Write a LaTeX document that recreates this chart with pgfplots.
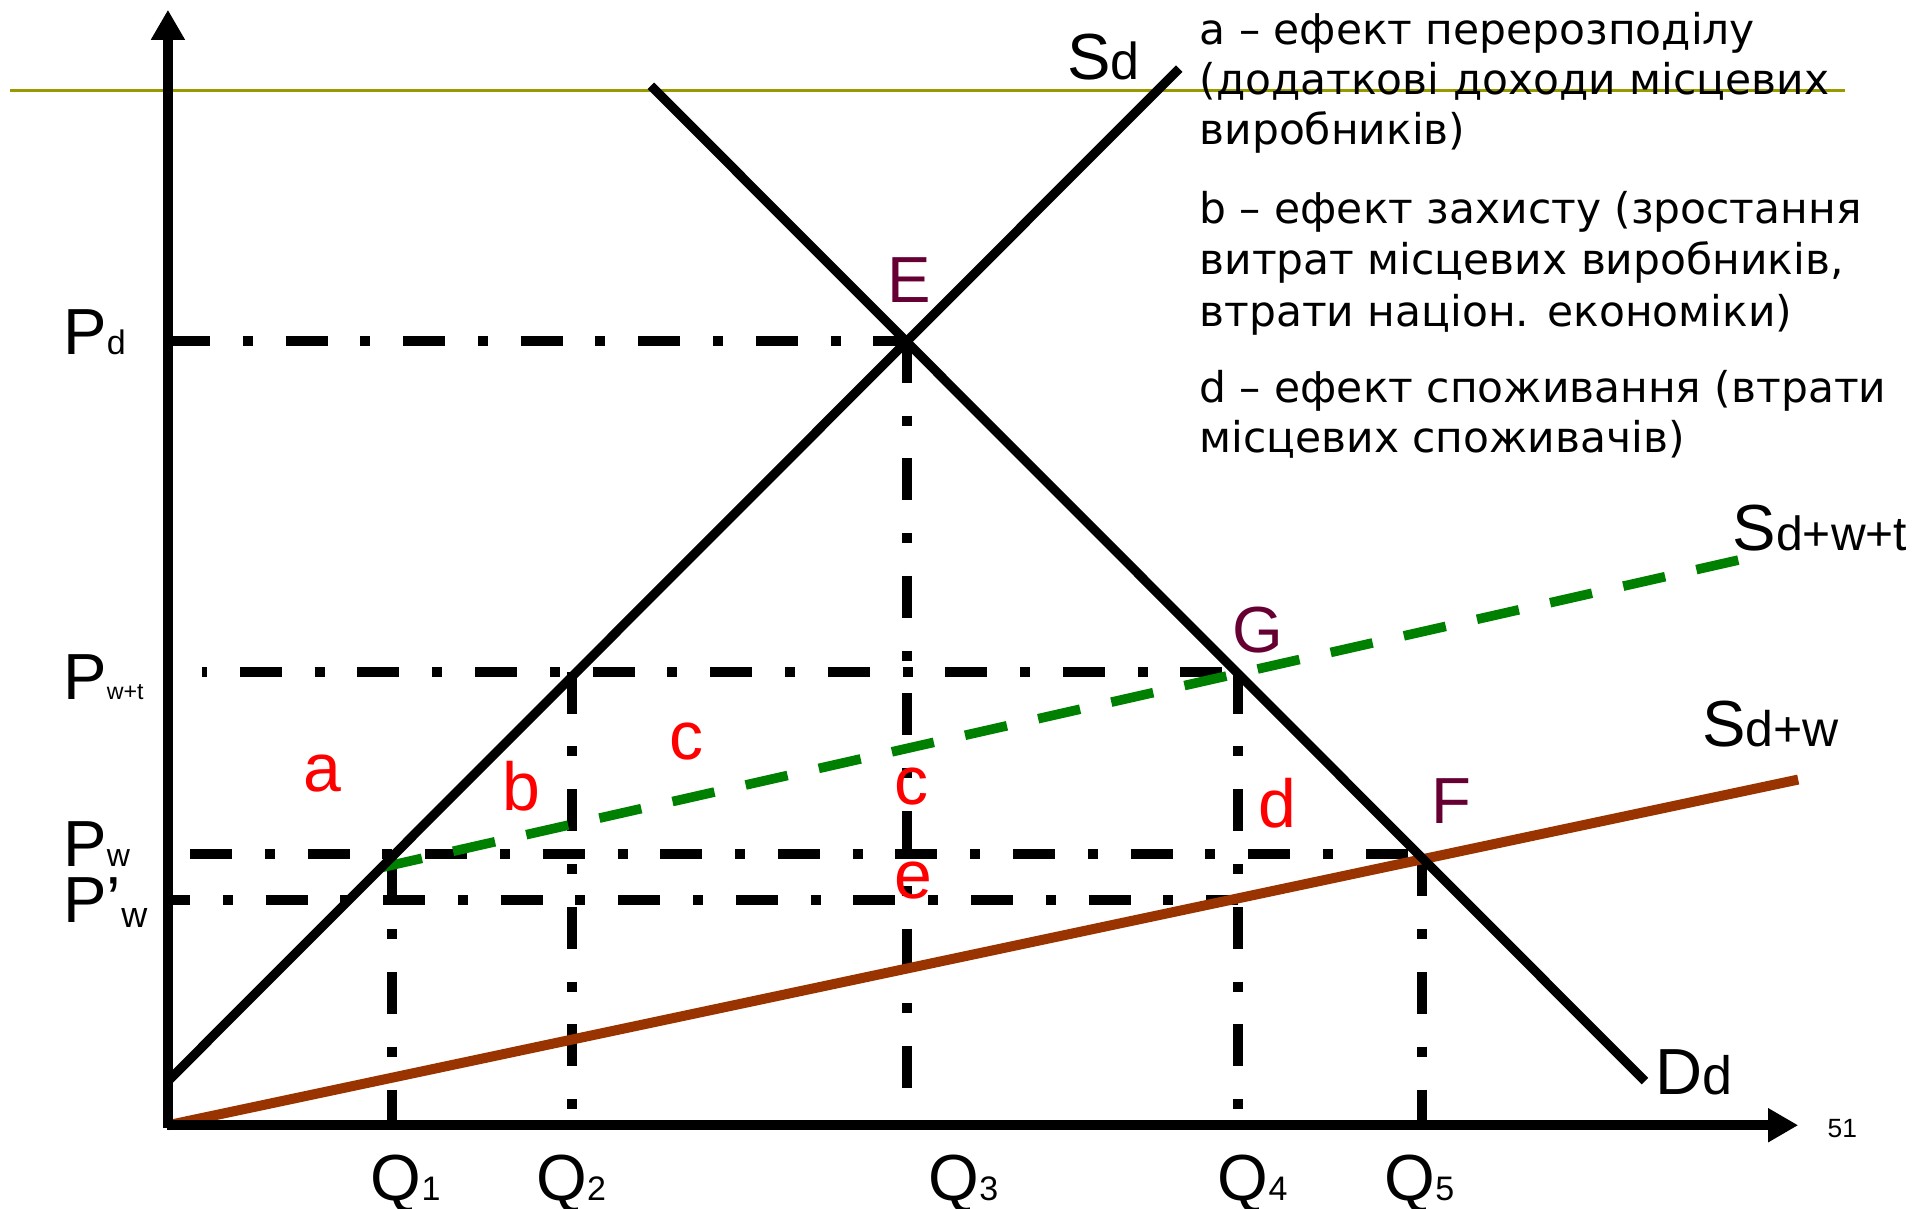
\documentclass[border=0pt]{standalone}
\usepackage{pgfplots}
\pgfplotsset{compat=1.18}
\usepackage{fontspec}
\setmainfont{Liberation Sans}
\newfontfamily\vfont{DejaVu Sans}
\usetikzlibrary{arrows.meta}

\definecolor{olivel}{HTML}{999900}
\definecolor{brownl}{HTML}{993300}
\definecolor{greenl}{HTML}{008000}
\definecolor{maroonl}{HTML}{660033}

\newcommand{\lbig}[1]{{\fontsize{16.3}{16.3}\selectfont #1}}
\newcommand{\lsub}[2]{{\fontsize{#1}{#1}\selectfont #2}}

\tikzset{
  dashdot/.style={line width=2.5pt, dash pattern=on 10.5pt off 8.2pt on 2.5pt off 8.2pt},
  lbl/.style={anchor=base west, inner sep=0pt},
  txt/.style={anchor=base west, inner sep=0pt, font=\vfont\fontsize{10.6}{12}\selectfont},
  redl/.style={inner sep=0pt, text=red, font=\fontsize{17}{17}\selectfont},
}

\begin{document}
\begin{tikzpicture}
\begin{axis}[
    x=0.3065pt, y=0.3065pt,
    xmin=0, xmax=1568, ymin=0, ymax=986,
    hide axis, clip=false,
]
\coordinate (bl) at (axis cs:0,0);
\coordinate (tr) at (axis cs:1568,986);

% olive rule at the top
\addplot[olivel, line width=0.9pt] coordinates {(8,912) (1505,912)};

% guide lines
\addplot[dashdot] coordinates {(137,708) (740,708)};   % Pd
\addplot[dashdot] coordinates {(740,708) (740,68)};    % Q3
\addplot[dashdot, dash phase=20pt] coordinates {(165,438) (1010,438)}; % Pw+t
\addplot[dashdot] coordinates {(467,438) (467,68)};    % Q2
\addplot[dashdot] coordinates {(1010,438) (1010,68)};  % Q4
\addplot[dashdot] coordinates {(155,289) (1160,289)};  % Pw
\addplot[dashdot] coordinates {(320,289) (320,68)};    % Q1
\addplot[dashdot] coordinates {(1160,289) (1160,68)};  % Q5
\addplot[dashdot, dash phase=5pt] coordinates {(137,252) (1010,252)};  % P'w

% supply curves
\addplot[greenl, line width=2.4pt, dash pattern=on 10.75pt off 8pt] coordinates {(310,278) (1440,534)};
\addplot[brownl, line width=2.5pt] coordinates {(137,68) (1467,350)};
\addplot[black, line width=2.3pt] coordinates {(137,104) (962,930)};
\addplot[black, line width=2.3pt] coordinates {(531,916) (1342,104)};

% axes
\addplot[black, line width=2.4pt, -{Triangle[length=7.5pt, width=8pt]}] coordinates {(137,66) (137,978)};
\addplot[black, line width=2.4pt, -{Triangle[length=7.5pt, width=8pt]}] coordinates {(136,68) (1467,68)};

% axis labels
\node[lbl] at (axis cs:51,697) {\lbig{P}\lsub{8.5}{d}};
\node[lbl] at (axis cs:51,415) {\lbig{P}\lsub{5.8}{w+t}};
\node[lbl] at (axis cs:51,279) {\lbig{P}\lsub{8}{w}};
\node[lbl] at (axis cs:51,233) {\lbig{P’}\raisebox{-1.2pt}{\lsub{9}{w}}};
\node[lbl] at (axis cs:302,7) {\lbig{Q}\lsub{8.5}{1}};
\node[lbl] at (axis cs:437,7) {\lbig{Q}\lsub{8.5}{2}};
\node[lbl] at (axis cs:757,7) {\lbig{Q}\lsub{8.5}{3}};
\node[lbl] at (axis cs:993,7) {\lbig{Q}\lsub{8.5}{4}};
\node[lbl] at (axis cs:1129,7) {\lbig{Q}\lsub{8.5}{5}};

% points
\node[lbl, text=maroonl] at (axis cs:723,739) {\lbig{E}};
\node[lbl, text=maroonl] at (axis cs:1005,454) {\lbig{G}};
\node[lbl, text=maroonl] at (axis cs:1167,314) {\lbig{F}};

% curve names
\node[lbl] at (axis cs:870,921) {\lbig{S}\lsub{13}{d}};
\node[lbl] at (axis cs:1413,537) {\lbig{S}\lsub{12}{d+w+t}};
\node[lbl] at (axis cs:1388,377) {\lbig{S}\lsub{12.5}{d+w}};
\node[lbl] at (axis cs:1350,93) {\lbig{D}\lsub{13.5}{d}};
\node[inner sep=0pt, font=\fontsize{6.6}{6.6}\selectfont] at (axis cs:1503,65) {51};

% areas
\node[redl] at (axis cs:263,355) {a};
\node[redl] at (axis cs:425,345) {b};
\node[redl] at (axis cs:560,381) {c};
\node[redl] at (axis cs:744,344) {c};
\node[redl] at (axis cs:1042,331) {d};
\node[redl] at (axis cs:745,268) {e};

% notes
\node[txt] at (axis cs:978,950) {a – ефект перерозподілу};
\node[txt] at (axis cs:978,909) {(додаткові доходи місцевих};
\node[txt] at (axis cs:978,868) {виробників)};
\node[txt] at (axis cs:978,804) {b – ефект захисту (зростання};
\node[txt] at (axis cs:978,762) {витрат місцевих виробників,};
\node[txt] at (axis cs:978,720) {втрати націон. економіки)};
\node[txt] at (axis cs:978,658) {d – ефект споживання (втрати};
\node[txt] at (axis cs:978,617) {місцевих споживачів)};
\end{axis}
\pgfresetboundingbox
\path (bl) rectangle (tr);
\end{tikzpicture}
\end{document}
